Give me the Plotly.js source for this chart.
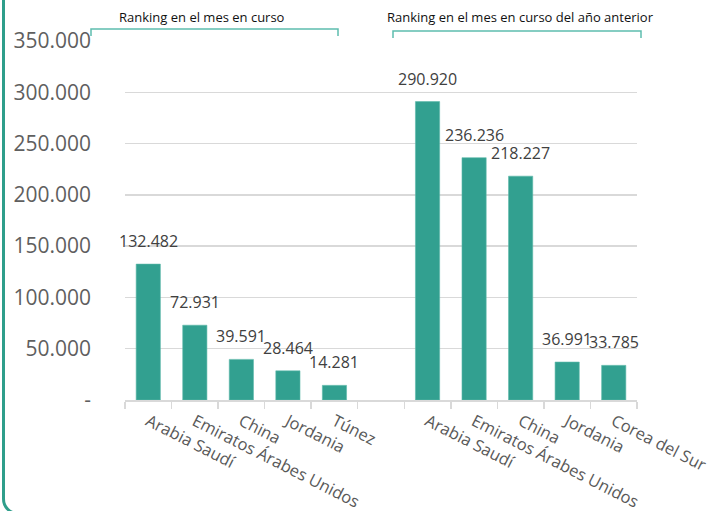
<!DOCTYPE html>
<html>
<head>
<meta charset="utf-8">
<script src="https://cdn.plot.ly/plotly-3.0.1.min.js"></script>
<style>
  html, body { margin: 0; padding: 0; background: #ffffff; overflow: hidden; }
  #wrap { position: relative; width: 710px; height: 511px; overflow: hidden; }
  #chart { position: absolute; left: 0; top: 0; width: 710px; height: 511px; }
  #frame { position: absolute; left: 2px; top: -40px; width: 800px; height: 555px;
           border: 3px solid #2f9e8b; border-radius: 16px; box-sizing: border-box;
           pointer-events: none; }
</style>
</head>
<body>
<div id="wrap">
  <div id="chart"></div>
  <div id="frame"></div>
</div>
<script>
// ---- data ----
const ids = ['c1', 'c2', 'c3', 'c4', 'c5', 'gap', 'p1', 'p2', 'p3', 'p4', 'p5'];
const categories = ['Arabia Saudí', 'Emiratos Árabes Unidos', 'China', 'Jordania', 'Túnez', '',
                    'Arabia Saudí', 'Emiratos Árabes Unidos', 'China', 'Jordania', 'Corea del Sur'];
const values = [132482, 72931, 39591, 28464, 14281, null, 290920, 236236, 218227, 36991, 33785];
const yTickVals = [0, 50000, 100000, 150000, 200000, 250000, 300000, 350000];
const yTickText = ['-', '50.000', '100.000', '150.000', '200.000', '250.000', '300.000', '350.000'];
const groupLabels = ['Ranking en el mes en curso', 'Ranking en el mes en curso del año anterior'];

// ---- layout helpers (pixel -> paper) ----
const W = 710, H = 511;
const M = { l: 125, r: 73, t: 41, b: 111 };
const pw = W - M.l - M.r, ph = H - M.t - M.b;
const px = x => (x - M.l) / pw;
const py = y => (H - M.b - y) / ph;

function fmt(v) {
  return String(v).replace(/\B(?=(\d{3})+(?!\d))/g, '.');
}

const teal = '#32a090';
const bracketColor = '#5dbdae';

const trace = {
  type: 'bar',
  x: ids,
  y: values,
  marker: { color: teal, line: { color: '#5cb8aa', width: 0.6 } },
  hoverinfo: 'skip'
};

const annotations = [];
ids.forEach((id, i) => {
  if (values[i] == null) return;
  annotations.push({
    x: id, y: values[i], xref: 'x', yref: 'y',
    text: fmt(values[i]), showarrow: false,
    yanchor: 'bottom', xanchor: 'center', yshift: 10,
    font: { family: 'Open Sans, sans-serif', size: 16, color: '#404040' }
  });
});

// group labels with brackets
const brackets = [
  { x0: 91, x1: 338, yTop: 29, yBot: 36, tx: 202, ty: 17, text: groupLabels[0] },
  { x0: 393, x1: 641, yTop: 31, yBot: 38, tx: 520, ty: 17, text: groupLabels[1] }
];
const shapes = [];
brackets.forEach(b => {
  shapes.push({
    type: 'path', xref: 'paper', yref: 'paper',
    path: `M ${px(b.x0)} ${py(b.yBot)} L ${px(b.x0)} ${py(b.yTop)} L ${px(b.x1)} ${py(b.yTop)} L ${px(b.x1)} ${py(b.yBot)}`,
    line: { color: bracketColor, width: 1.5 }
  });
  annotations.push({
    xref: 'paper', yref: 'paper', x: px(b.tx), y: py(b.ty),
    xanchor: 'center', yanchor: 'middle', showarrow: false,
    text: b.text,
    font: { family: 'Open Sans, sans-serif', size: 13, color: '#111111' }
  });
});

const layout = {
  width: W, height: H,
  margin: M,
  paper_bgcolor: '#ffffff',
  plot_bgcolor: '#ffffff',
  showlegend: false,
  bargap: 0.48,
  separators: ',.',
  font: { family: 'Open Sans, sans-serif', color: '#595959' },
  xaxis: {
    type: 'category',
    tickmode: 'array',
    tickvals: ids,
    ticktext: categories,
    tickson: 'boundaries',
    ticks: 'outside',
    ticklen: 7,
    tickwidth: 1.5,
    tickcolor: '#d9d9d9',
    showline: true,
    linecolor: '#d9d9d9',
    linewidth: 1.5,
    showgrid: false,
    tickangle: 27,
    ticklabelstandoff: 4,
    tickfont: { family: 'Open Sans, sans-serif', size: 16.5, color: '#595959' },
    range: [-0.5, 10.5],
    fixedrange: true
  },
  yaxis: {
    range: [0, 350000],
    tickmode: 'array',
    tickvals: yTickVals,
    ticktext: yTickText,
    showgrid: true,
    gridcolor: '#d9d9d9',
    gridwidth: 1.4,
    zeroline: false,
    showline: false,
    ticks: '',
    ticklabelstandoff: 33,
    tickfont: { family: 'Open Sans, sans-serif', size: 21, color: '#5f5f5f' },
    fixedrange: true
  },
  shapes: shapes,
  annotations: annotations
};

Plotly.newPlot('chart', [trace], layout, { displayModeBar: false, staticPlot: true });
</script>
</body>
</html>
